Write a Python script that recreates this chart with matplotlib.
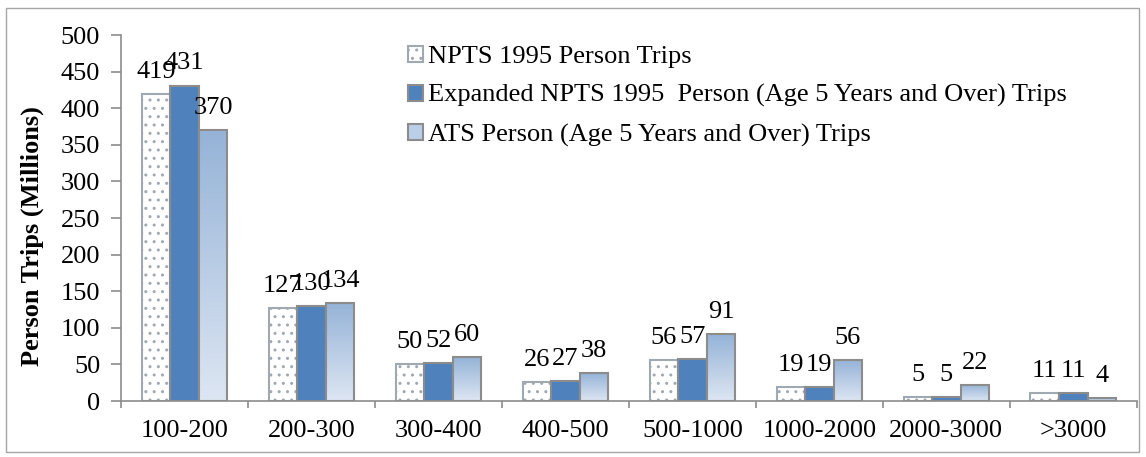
import matplotlib.pyplot as plt
import numpy as np
from matplotlib.patches import Rectangle
from matplotlib.colors import LinearSegmentedColormap

categories = ['100-200', '200-300', '300-400', '400-500', '500-1000',
              '1000-2000', '2000-3000', '>3000']
npts_1995 = [419, 127, 50, 26, 56, 19, 5, 11]
npts_expanded = [431, 130, 52, 27, 57, 19, 5, 11]
ats = [370, 134, 60, 38, 91, 56, 22, 4]
series_names = ['NPTS 1995 Person Trips',
                'Expanded NPTS 1995  Person (Age 5 Years and Over) Trips',
                'ATS Person (Age 5 Years and Over) Trips']

plt.rcParams['font.family'] = ['Liberation Serif', 'DejaVu Serif']
plt.rcParams['hatch.linewidth'] = 1.0
fs = 19

fig = plt.figure(figsize=(11.46, 4.57), dpi=100)
ax = fig.add_axes([0.1056, 0.1225, 0.8864, 0.8009])
fig.add_artist(Rectangle((0.005, 0.012), 0.989, 0.97, transform=fig.transFigure,
                         fill=False, edgecolor='#a6a6a6', linewidth=1.0))

x = np.arange(len(categories))
w = 0.225
edge = '#8c8c8c'
b1 = ax.bar(x - w, npts_1995, w, color='white', edgecolor='#a0a8b0',
            hatch='..', linewidth=1.5, label=series_names[0])
b2 = ax.bar(x, npts_expanded, w, color='#4f81bd', edgecolor=edge,
            linewidth=1.5, label=series_names[1])
b3 = ax.bar(x + w, ats, w, color='#bccfe9', edgecolor=edge,
            linewidth=1.5, label=series_names[2])

ax.legend(loc='upper left', bbox_to_anchor=(0.259, 1.036), frameon=False,
          fontsize=fs, handlelength=0.57, handleheight=0.57, handletextpad=0.2,
          labelspacing=0.62)

# gradient fill for the ATS bars
grad = np.linspace(0, 1, 256).reshape(-1, 1)
cmap = LinearSegmentedColormap.from_list('g', ['#dde6f3', '#95b3d7'])
for bar in b3:
    bx, by = bar.get_x(), bar.get_y()
    bw, bh = bar.get_width(), bar.get_height()
    im = ax.imshow(grad, cmap=cmap, aspect='auto', origin='lower',
                   extent=(bx, bx + bw, by, by + bh), zorder=bar.get_zorder())
    im.set_clip_path(bar)
    bar.set_facecolor('none')
    bar.set_zorder(bar.get_zorder() + 0.1)

for bars in (b1, b2, b3):
    for bar in bars:
        ax.annotate(f'{int(bar.get_height())}',
                    (bar.get_x() + bar.get_width() / 2, bar.get_height()),
                    xytext=(0, 8), textcoords='offset points',
                    ha='center', va='bottom', fontsize=fs)

ax.set_xlim(-0.5, len(categories) - 0.5)
ax.set_ylim(0, 500)
ax.set_yticks(np.arange(0, 501, 50))
ax.set_xticks(x)
ax.set_xticklabels(categories)
ax.set_xticks(np.arange(-0.5, len(categories), 1), minor=True)
ax.tick_params(axis='x', which='major', length=0, pad=14, labelsize=fs)
ax.tick_params(axis='x', which='minor', length=5, width=1.2, color=edge, direction='out')
ax.tick_params(axis='y', length=7, width=1.2, color=edge, pad=8, labelsize=fs)
for s in ('top', 'right'):
    ax.spines[s].set_visible(False)
for s in ('left', 'bottom'):
    ax.spines[s].set_color(edge)
    ax.spines[s].set_linewidth(1.2)
fig.text(0.028, 0.4836, 'Person Trips (Millions)', rotation=90, ha='center',
         va='center', fontsize=fs, fontweight='bold')

fig.savefig('out.png', dpi=100)
